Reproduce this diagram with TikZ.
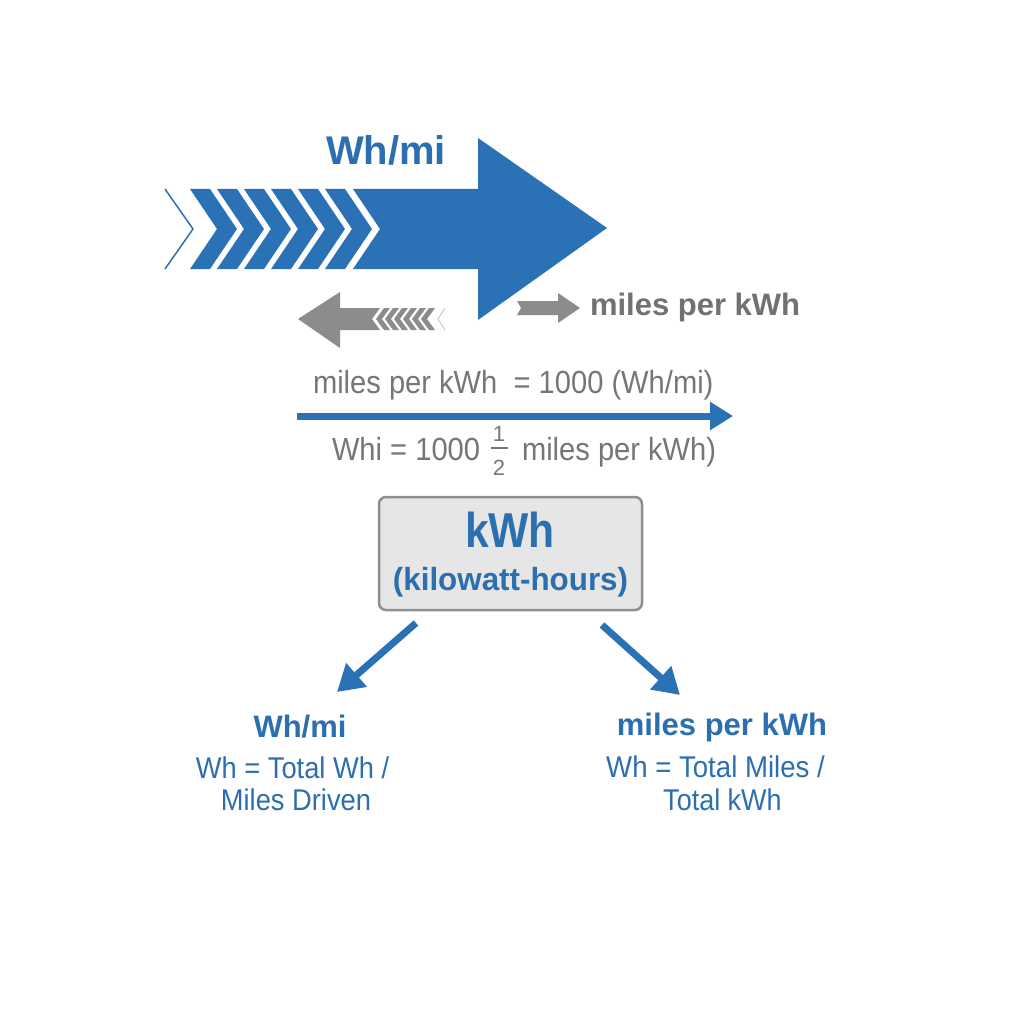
\documentclass[tikz,border=0pt]{standalone}
\usepackage{fontspec}
\setmainfont{Liberation Sans}
\usetikzlibrary{arrows.meta}
\definecolor{mblue}{HTML}{2A72B5}
\definecolor{tblue}{HTML}{2C6FB0}
\definecolor{mgray}{HTML}{8C8C8C}
\definecolor{tgray}{HTML}{717171}
\definecolor{fgray}{HTML}{767676}
\definecolor{boxfill}{HTML}{E6E6E6}
\definecolor{boxline}{HTML}{8F8F8F}
\newcommand{\fs}[1]{\fontsize{#1}{#1}\selectfont}
\newcommand{\cnd}[2]{\scalebox{#1}[1]{#2}}
\tikzset{
  lbl/.style={inner sep=0pt, outer sep=0pt, anchor=base},
  lblw/.style={inner sep=0pt, outer sep=0pt, anchor=base west},
  bluearrow/.style={draw=mblue, line width=7pt, -{Triangle[length=26pt,width=30pt]}},
  boxstyle/.style={draw=boxline, fill=boxfill, line width=2.5pt, rounded corners=7pt,
    minimum width=263pt, minimum height=113pt, inner sep=0pt}
}
\begin{document}
\begin{tikzpicture}[x=1pt,y=-1pt]
\useasboundingbox (0,0) rectangle (1024,1024);
\fill[white] (0,0) rectangle (1024,1024);

% big blue arrow
\fill[mblue] (353,189) -- (478,189) -- (478,138) -- (607,228) -- (478,320) -- (478,269) -- (353,269) -- (380,229) -- cycle;
\foreach \k in {0,...,5}{
  \pgfmathsetmacro\xx{190+27*\k}
  \fill[mblue] (\xx,189) -- ++(20,0) -- ++(27,40) -- ++(-27,40) -- ++(-20,0) -- ++(27,-40) -- cycle;
}
\draw[mblue, line width=1.5pt] (165,189) -- (193,229) -- (165,269);
\node[lbl, text=tblue] (twh) at (386,165) {\fs{40}\bfseries Wh/mi};

% gray left arrow
\fill[mgray] (298,319) -- (340,292) -- (340,308) -- (380,308) -- (372,319) -- (380,330) -- (340,330) -- (340,348) -- cycle;
\foreach \k in {0,...,5}{
  \pgfmathsetmacro\xx{376+9*\k}
  \fill[mgray] (\xx,319) -- ++(8,-11) -- ++(6,0) -- ++(-8,11) -- ++(8,11) -- ++(-6,0) -- cycle;
}
\draw[mgray!45, line width=1pt] (445,308) -- (438,319) -- (445,330);

% small gray right arrow + label
\fill[mgray] (517,301) -- (558,301) -- (558,293) -- (580,308) -- (558,323) -- (558,315) -- (517,315) -- (521,308) -- cycle;
\node[lblw, text=tgray] (tmpk) at (590,315) {\fs{31}\bfseries miles per kWh};

% formulas
\node[lblw, text=fgray] (f1) at (313,393) {\fs{32}\cnd{0.91}{miles per kWh\ \ = 1000 (Wh/mi)}};
\coordinate (hs) at (297,416);
\coordinate (he) at (733,416);
\draw[draw=mblue, line width=7pt, -{Triangle[length=23pt,width=27pt]}] (hs) -- (he);
\node[lblw, text=fgray] (f2a) at (332,460) {\fs{32}\cnd{0.91}{Whi = 1000}};
\node[lbl, text=fgray] (fn) at (499,441) {\fs{22}1};
\coordinate (fb1) at (491,448);
\coordinate (fb2) at (508,448);
\draw[fgray, line width=1.6pt] (fb1) -- (fb2);
\node[lbl, text=fgray] (fd) at (499,475) {\fs{22}2};
\node[lblw, text=fgray] (f2b) at (522,460) {\fs{32}\cnd{0.91}{miles per kWh)}};

% box
\node[boxstyle] (box) at (510.5,553.5) {};
\node[lbl, text=tblue] (kwh) at (510,547) {\fs{49}\bfseries\cnd{0.87}{kWh}};
\node[lbl, text=tblue] (kwhs) at (510.5,590) {\fs{32}\bfseries\cnd{0.98}{(kilowatt-hours)}};

% diagonal arrows
\coordinate (l1) at (416,623);
\coordinate (l2) at (337,692);
\coordinate (r1) at (602,625);
\coordinate (r2) at (680,695);
\draw[bluearrow] (l1) -- (l2);
\draw[bluearrow] (r1) -- (r2);

% bottom left
\node[lbl, text=tblue] (bl1) at (300,737) {\fs{31}\bfseries Wh/mi};
\node[lbl, text=tblue] (bl2) at (292.5,778) {\fs{30}\cnd{0.91}{Wh = Total Wh /}};
\node[lbl, text=tblue] (bl3) at (296,810) {\fs{30}\cnd{0.91}{Miles Driven}};

% bottom right
\node[lbl, text=tblue] (br1) at (722,735) {\fs{31}\bfseries miles per kWh};
\node[lbl, text=tblue] (br2) at (715.5,777) {\fs{30}\cnd{0.92}{Wh = Total Miles /}};
\node[lbl, text=tblue] (br3) at (722.5,810) {\fs{30}\cnd{0.9}{Total kWh}};
\end{tikzpicture}
\end{document}
